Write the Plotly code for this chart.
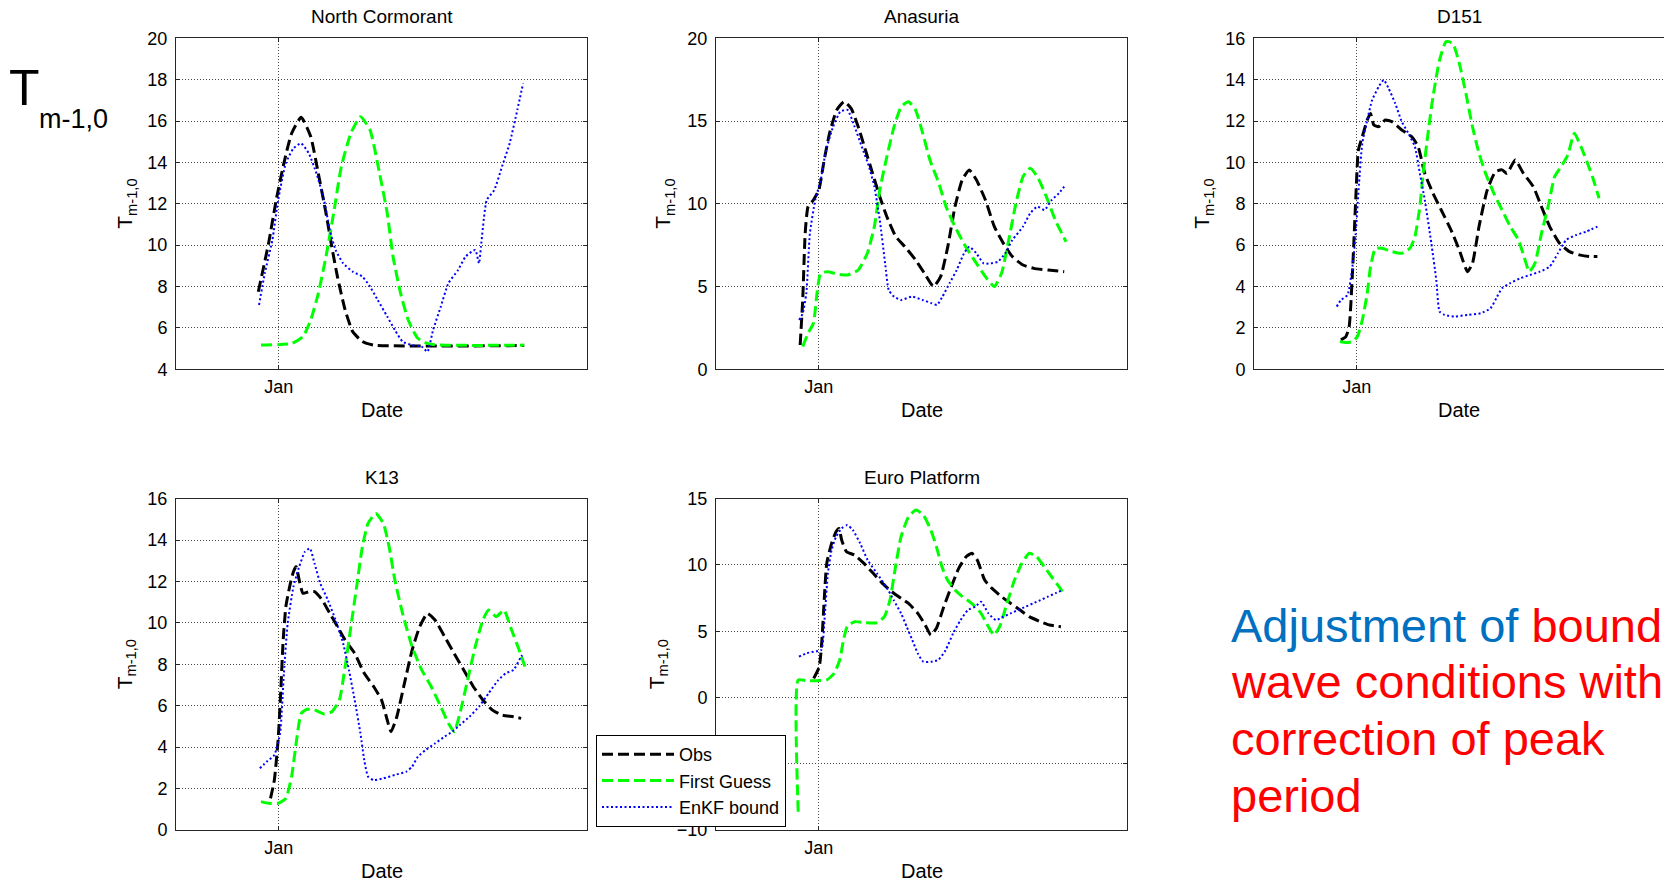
import plotly.graph_objects as go

# ---------------- data (days relative to 1 Jan, T_m-1,0 in s) ----------------
nc_obs_t = [-1.99, -0.99, -0.24, 0.5, 1.25, 2.18, 3.11, 3.85, 4.6, 5.16, 5.71, 6.46, 7.2, 8.14, 9.25, 23.89]
nc_obs_v = [7.75, 10.09, 12.2, 13.96, 15.4, 16.18, 15.25, 13.47, 11.54, 9.93, 8.48, 6.87, 5.82, 5.34, 5.17, 5.15]
nc_fg_t = [-1.73, 1.25, 2.36, 3.11, 3.85, 4.6, 5.34, 6.09, 7.02, 7.95, 8.88, 9.81, 10.56, 11.12, 11.86, 12.6, 13.53, 14.65, 23.89]
nc_fg_v = [5.17, 5.25, 5.58, 6.38, 7.67, 9.45, 11.54, 13.8, 15.41, 16.21, 15.57, 13.47, 11.54, 9.45, 7.67, 6.38, 5.5, 5.22, 5.17]
nc_en_t = [-1.92, -1.36, -0.62, -0.06, 0.69, 1.43, 2.18, 2.92, 3.67, 4.41, 4.97, 5.53, 6.27, 7.2, 8.14, 8.88, 9.63, 10.56,
           11.3, 12.05, 12.98, 13.91, 14.47, 15.02, 15.77, 16.51, 17.45, 18.19, 19.12, 19.49, 19.68, 20.24, 20.98, 21.73,
           22.47, 23.22, 23.78]
nc_en_v = [7.11, 8.64, 10.25, 12.18, 13.96, 14.68, 14.92, 14.44, 13.47, 12.18, 10.73, 9.77, 9.12, 8.72, 8.48, 8.0, 7.35, 6.55,
           5.9, 5.34, 5.17, 5.1, 4.85, 5.9, 7.03, 8.16, 8.8, 9.45, 9.77, 9.12, 9.93, 12.18, 12.67, 13.8,
           14.92, 16.54, 17.82]

an_obs_t = [-1.81, -1.56, -1.32, -1.04, -0.52, 0.01, 0.53, 1.05, 1.75, 2.45, 3.15, 3.84, 4.54, 5.24, 5.94, 6.63, 7.5, 8.38,
            9.42, 10.29, 11.17, 11.86, 12.56, 13.26, 13.96, 14.65, 15.35, 16.22, 17.09, 17.97, 18.84, 19.88, 20.93, 22.32, 23.89]
an_obs_v = [1.47, 4.19, 8.22, 9.83, 10.23, 10.84, 12.65, 14.26, 15.67, 16.17, 15.77, 14.66, 13.25, 11.84, 10.43, 9.22, 8.02, 7.41,
            6.61, 5.8, 5.0, 5.6, 7.41, 9.83, 11.44, 12.04, 11.44, 10.23, 8.62, 7.61, 6.81, 6.3, 6.1, 6.0, 5.9]
an_fg_t = [-1.56, -1.04, -0.52, -0.17, 0.18, 0.88, 1.75, 2.8, 3.84, 4.72, 5.41, 5.94, 6.63, 7.33, 8.03, 8.73, 9.42, 10.12,
           10.82, 11.69, 12.39, 13.26, 14.3, 15.35, 16.22, 17.09, 17.79, 18.49, 19.19, 19.88, 20.58, 21.28, 22.15, 23.02, 24.07]
an_fg_v = [1.37, 2.18, 2.78, 4.59, 5.8, 5.9, 5.76, 5.7, 6.0, 7.0, 8.62, 10.84, 12.85, 14.66, 15.87, 16.17, 15.67, 14.26,
           12.65, 11.24, 9.83, 8.62, 7.41, 6.4, 5.6, 5.0, 5.8, 7.81, 10.03, 11.64, 12.15, 11.64, 10.43, 9.02, 7.71]
an_en_t = [-1.91, -1.56, -1.21, -0.86, -0.34, 0.19, 0.71, 1.4, 2.1, 2.8, 3.49, 4.19, 4.89, 5.41, 5.94, 6.46, 6.81, 7.33,
           8.03, 9.07, 10.12, 10.99, 11.51, 12.04, 12.73, 13.43, 14.13, 14.65, 15.35, 16.05, 16.75, 17.44, 18.14, 18.84,
           19.88, 20.58, 21.28, 21.98, 22.67, 23.37, 23.89]
an_en_v = [2.98, 3.38, 4.59, 8.22, 10.23, 11.44, 13.25, 14.66, 15.57, 15.67, 14.66, 13.45, 12.25, 11.04, 9.02, 6.4, 4.79, 4.39,
           4.19, 4.39, 4.19, 3.99, 3.89, 4.39, 5.2, 6.0, 7.0, 7.41, 7.0, 6.4, 6.4, 6.5, 7.0, 7.81,
           8.62, 9.43, 9.83, 9.63, 10.23, 10.63, 11.04]

d151_obs_t = [-1.54, -1.06, -0.74, -0.42, -0.1, 0.16, 0.54, 1.02, 1.34, 1.66, 2.14, 2.78, 3.42, 4.38, 5.34, 5.98, 6.62, 7.42,
              8.22, 9.18, 9.98, 10.78, 11.26, 11.9, 12.7, 13.5, 14.14, 14.62, 15.42, 16.22, 17.18, 17.98, 18.78, 19.74,
              20.7, 21.66, 22.62, 23.42]
d151_obs_v = [1.42, 1.58, 2.06, 4.64, 8.19, 10.6, 11.25, 12.05, 12.37, 11.81, 11.73, 12.05, 11.97, 11.57, 11.25, 10.76, 9.47, 8.51,
              7.7, 6.73, 5.77, 4.72, 5.12, 6.9, 8.67, 9.55, 9.64, 9.47, 10.12, 9.47, 8.83, 7.86, 6.9, 6.09,
              5.69, 5.53, 5.45, 5.45]
d151_fg_t = [-1.63, -1.06, -0.42, 0.06, 0.54, 1.02, 1.34, 1.82, 2.46, 3.42, 4.38, 5.18, 5.66, 6.14, 6.46, 6.94, 7.42, 8.06,
             8.7, 9.34, 9.98, 10.62, 11.26, 11.9, 12.54, 13.34, 14.14, 14.94, 15.74, 16.38, 16.79, 17.34, 17.98, 18.62,
             19.26, 19.9, 20.54, 21.18, 21.82, 22.46, 22.94, 23.58]
d151_fg_v = [1.34, 1.29, 1.34, 1.58, 2.38, 3.67, 4.96, 5.85, 5.85, 5.69, 5.61, 5.85, 6.41, 7.86, 9.47, 11.41, 13.18, 14.95,
             15.84, 15.76, 14.79, 13.34, 11.73, 10.44, 9.47, 8.51, 7.7, 6.9, 6.25, 5.28, 4.72, 5.12, 6.57, 7.86,
             9.31, 9.8, 10.36, 11.41, 10.76, 9.96, 9.31, 8.27]
d151_en_t = [-1.95, -1.54, -0.9, -0.42, -0.1, 0.22, 0.54, 1.02, 1.5, 2.14, 2.62, 3.1, 3.74, 4.38, 5.02, 5.66, 6.14, 6.62,
             7.26, 7.74, 8.06, 8.54, 9.5, 10.78, 12.06, 13.02, 13.66, 14.14, 14.94, 15.9, 16.86, 17.82, 18.78, 19.58,
             20.38, 21.34, 22.3, 23.42]
d151_en_v = [3.03, 3.35, 3.59, 4.96, 6.57, 8.99, 10.92, 12.05, 13.02, 13.66, 13.99, 13.58, 12.86, 11.97, 11.41, 10.76, 9.47, 8.19,
             6.09, 4.32, 2.79, 2.63, 2.55, 2.63, 2.71, 2.95, 3.51, 3.92, 4.16, 4.4, 4.56, 4.72, 4.96, 5.61,
             6.25, 6.49, 6.65, 6.9]

k13_obs_t = [-0.8, -0.43, -0.06, 0.2, 0.43, 0.69, 1.06, 1.43, 1.69, 1.99, 2.36, 2.92, 3.48, 4.23, 4.97, 5.72, 6.46, 7.39,
             8.32, 9.25, 10.0, 10.56, 10.93, 11.49, 12.23, 12.98, 13.72, 14.47, 15.21, 16.14, 17.07, 18.0, 18.94, 19.87,
             20.8, 21.73, 22.85, 23.59]
k13_obs_v = [1.53, 2.41, 4.35, 6.76, 9.17, 10.78, 11.75, 12.47, 12.72, 12.07, 11.43, 11.51, 11.51, 11.11, 10.46, 9.82, 9.17, 8.53,
             7.57, 6.92, 6.28, 5.31, 4.75, 5.47, 7.08, 8.69, 9.82, 10.46, 10.14, 9.34, 8.53, 7.73, 6.92, 6.28,
             5.79, 5.55, 5.47, 5.39]
k13_fg_t = [-1.73, -0.99, -0.06, 0.69, 1.25, 1.69, 2.18, 2.74, 3.48, 4.41, 5.16, 5.9, 6.46, 7.02, 7.58, 8.14, 8.69, 9.44,
            10.18, 10.74, 11.3, 12.05, 12.98, 13.91, 14.84, 15.77, 16.51, 17.07, 17.63, 18.38, 19.12, 19.87, 20.42, 21.17,
            21.91, 22.66, 23.4, 23.96]
k13_fg_v = [1.37, 1.29, 1.29, 1.53, 2.58, 4.18, 5.63, 5.83, 5.8, 5.6, 5.71, 6.28, 7.89, 9.82, 11.75, 13.68, 14.81, 15.29,
            14.81, 13.68, 12.07, 10.46, 8.85, 7.73, 6.92, 5.96, 5.15, 4.75, 5.63, 7.24, 8.85, 10.14, 10.62, 10.3,
            10.62, 9.66, 8.69, 7.89]
k13_en_t = [-1.84, -1.17, -0.43, 0.13, 0.5, 0.87, 1.43, 1.99, 2.55, 3.03, 3.48, 4.04, 4.78, 5.53, 6.27, 6.83, 7.39, 7.95,
            8.32, 8.69, 9.25, 10.18, 11.3, 12.42, 12.98, 13.54, 14.28, 15.21, 16.14, 16.89, 17.63, 18.56, 19.49, 20.42,
            21.36, 22.1, 22.85, 23.59, 23.89]
k13_en_v = [2.98, 3.3, 3.62, 4.67, 7.57, 9.98, 11.75, 12.72, 13.44, 13.6, 12.88, 11.91, 11.11, 10.14, 9.01, 7.73, 6.28, 4.67,
            3.38, 2.58, 2.41, 2.49, 2.66, 2.82, 3.06, 3.54, 3.86, 4.18, 4.51, 4.75, 5.07, 5.47, 5.96, 6.6,
            7.24, 7.57, 7.73, 8.37, 8.53]

ep_obs_t = [-0.49, 0.05, 0.31, 0.53, 0.78, 1.25, 1.68, 1.97, 2.23, 2.7, 3.49, 4.4, 5.3, 6.2, 7.11, 8.01, 8.74, 9.64,
            10.36, 10.91, 11.45, 12.17, 12.9, 13.62, 14.34, 14.89, 15.43, 16.15, 16.87, 17.78, 18.68, 19.59, 20.49, 21.58,
            22.48, 23.57]
ep_obs_v = [1.44, 2.32, 4.34, 7.35, 10.12, 11.63, 12.51, 12.76, 11.88, 11.0, 10.75, 10.12, 9.37, 8.61, 7.98, 7.48, 7.1, 6.35,
            5.47, 4.71, 5.22, 6.85, 8.36, 9.74, 10.62, 10.88, 10.37, 8.86, 8.23, 7.61, 7.1, 6.6, 6.1, 5.72,
            5.47, 5.34]
ep_fg_t = [-2.0, -2.0, -1.21, -0.13, 0.78, 1.5, 2.04, 2.41, 2.77, 3.49, 4.58, 5.66, 6.39, 6.93, 7.47, 8.01, 8.74, 9.46,
           10.18, 10.91, 11.45, 11.99, 12.53, 13.26, 13.98, 14.89, 15.79, 16.51, 17.06, 17.6, 18.32, 19.05, 19.77, 20.49,
           21.21, 21.94, 22.66, 23.38, 23.93]
ep_fg_v = [-8.62, 1.32, 1.27, 1.27, 1.32, 1.82, 2.83, 4.34, 5.34, 5.72, 5.64, 5.64, 6.1, 7.35, 9.87, 12.13, 13.64, 14.14,
           13.77, 12.64, 11.38, 9.87, 8.86, 8.11, 7.61, 7.1, 6.35, 5.34, 4.71, 5.34, 7.1, 8.86, 10.12, 10.88,
           10.62, 9.87, 9.11, 8.36, 7.73]
ep_en_t = [-1.93, -1.21, -0.49, 0.24, 0.6, 0.89, 1.25, 1.68, 2.23, 2.77, 3.31, 4.03, 4.76, 5.66, 6.57, 7.29, 8.01, 8.56,
           9.1, 9.64, 10.18, 10.91, 11.63, 12.35, 13.08, 13.8, 14.52, 15.25, 15.79, 16.51, 17.24, 17.96, 18.68, 19.41,
           20.13, 20.85, 21.58, 22.3, 23.02, 23.74]
ep_en_v = [3.08, 3.33, 3.46, 3.58, 6.35, 9.37, 11.13, 12.13, 12.76, 13.01, 12.64, 11.63, 10.37, 9.37, 8.36, 7.35, 6.35, 5.34,
           4.34, 3.33, 2.7, 2.7, 2.83, 3.58, 4.84, 5.84, 6.6, 6.85, 7.23, 6.35, 5.84, 6.1, 6.35, 6.6,
           6.85, 7.1, 7.35, 7.61, 7.86, 8.11]

station_names = ["North Cormorant", "Anasuria", "D151", "K13", "Euro Platform"]
series_names = ["Obs", "First Guess", "EnKF bound"]
y_tick_values = [list(range(4, 21, 2)), list(range(0, 21, 5)), list(range(0, 17, 2)),
                 list(range(0, 17, 2)), list(range(-10, 16, 5))]
x_tick_values = [0]
x_tick_labels = ["Jan"]

station_data = [
    [(nc_obs_t, nc_obs_v), (nc_fg_t, nc_fg_v), (nc_en_t, nc_en_v)],
    [(an_obs_t, an_obs_v), (an_fg_t, an_fg_v), (an_en_t, an_en_v)],
    [(d151_obs_t, d151_obs_v), (d151_fg_t, d151_fg_v), (d151_en_t, d151_en_v)],
    [(k13_obs_t, k13_obs_v), (k13_fg_t, k13_fg_v), (k13_en_t, k13_en_v)],
    [(ep_obs_t, ep_obs_v), (ep_fg_t, ep_fg_v), (ep_en_t, ep_en_v)],
]

# ---------------- layout / style ----------------
W, H = 1664, 882
FONT = "Liberation Sans, Arial, Helvetica, sans-serif"
boxes = [  # left, right, top, bottom (px)
    (176, 587, 38.3, 369.3),
    (716, 1127, 38.3, 369.3),
    (1254, 1664, 38.3, 369.3),
    (176, 587, 498.7, 830),
    (716, 1127, 498.7, 830),
]
label_x = [126, 664, 1203, 126, 658]
styles = [
    dict(color="#000000", width=3, dash="11px,5px"),
    dict(color="#00FF00", width=3, dash="11px,5px"),
    dict(color="#0000FF", width=2, dash="2px,2.5px"),
]
AX_COL = "#262626"
GRID_COL = "#4a4a4a"


def px(x):
    return x / W


def py(y):
    return 1 - y / H


fig = go.Figure()
annotations = []
for i, (box, name, data, yt) in enumerate(zip(boxes, station_names, station_data, y_tick_values), start=1):
    l, r, t, b = box
    sfx = "" if i == 1 else str(i)
    xr = [-10, -10 + 40 * (r - l) / 411.0]
    fig.update_layout(**{
        f"xaxis{sfx}": dict(domain=[px(l), px(r)], range=xr, anchor=f"y{sfx}",
                            tickvals=x_tick_values, ticktext=x_tick_labels,
                            ticks="inside", ticklen=4, tickcolor=AX_COL,
                            showline=True, linecolor=AX_COL, linewidth=1, mirror="ticks",
                            showgrid=True, gridcolor=GRID_COL, griddash="1px,2px", gridwidth=1,
                            zeroline=False, ticklabelstandoff=1, automargin=False,
                            tickfont=dict(size=18, color="#000000", family=FONT)),
        f"yaxis{sfx}": dict(domain=[py(b), py(t)], range=[yt[0], yt[-1]], anchor=f"x{sfx}",
                            tickvals=yt, ticks="inside", ticklen=4, tickcolor=AX_COL,
                            showline=True, linecolor=AX_COL, linewidth=1,
                            mirror=(False if i == 3 else "ticks"),
                            showgrid=True, gridcolor=GRID_COL, griddash="1px,2px", gridwidth=1,
                            zeroline=False, ticklabelstandoff=4, automargin=False,
                            tickfont=dict(size=18, color="#000000", family=FONT)),
    })
    for (tt, vv), sname, st in zip(data, series_names, styles):
        fig.add_trace(go.Scatter(
            x=tt, y=vv, mode="lines", name=sname,
            xaxis=f"x{sfx}", yaxis=f"y{sfx}",
            line=dict(color=st["color"], width=st["width"], dash=st["dash"], shape="spline", smoothing=0.5),
            showlegend=(i == 5), hoverinfo="skip",
        ))
    cx = (l + min(r, l + 411)) / 2
    annotations.append(dict(text=name, x=px(cx), y=py(t - 21.5), xref="paper", yref="paper",
                            showarrow=False, xanchor="center", yanchor="middle",
                            font=dict(size=19, color="#000000", family=FONT)))
    annotations.append(dict(text="Date", x=px(cx), y=py(b + 41), xref="paper", yref="paper",
                            showarrow=False, xanchor="center", yanchor="middle",
                            font=dict(size=20, color="#000000", family=FONT)))
    annotations.append(dict(text="T<sub>m-1,0</sub>", x=px(label_x[i - 1]), y=py((t + b) / 2),
                            xref="paper", yref="paper", showarrow=False, textangle=-90,
                            xanchor="center", yanchor="middle",
                            font=dict(size=21, color="#000000", family=FONT)))

# big symbol at top-left
annotations.append(dict(text="T", x=px(7), y=py(88), xref="paper", yref="paper", showarrow=False,
                        xanchor="left", yanchor="middle", font=dict(size=50, color="#000000", family=FONT)))
annotations.append(dict(text="m-1,0", x=px(37), y=py(119), xref="paper", yref="paper", showarrow=False,
                        xanchor="left", yanchor="middle", font=dict(size=27, color="#000000", family=FONT)))

# explanatory text
text_lines = [
    '<span style="color:#0070C0">Adjustment of</span> boundary',
    "wave conditions with",
    "correction of peak",
    "period",
]
line_y = [625, 681.5, 738, 795]
for txt, yy in zip(text_lines, line_y):
    annotations.append(dict(text=txt, x=px(1229), y=py(yy), xref="paper", yref="paper", showarrow=False,
                            xanchor="left", yanchor="middle", align="left",
                            font=dict(size=47, color="#FF0000", family=FONT)))

fig.update_layout(
    width=W, height=H, margin=dict(l=0, r=0, t=0, b=0, pad=0, autoexpand=False),
    paper_bgcolor="white", plot_bgcolor="white",
    font=dict(family=FONT, color="#000000"),
    annotations=annotations,
    showlegend=True,
    legend=dict(x=px(596), y=py(735), xanchor="left", yanchor="top",
                bgcolor="white", bordercolor="#000000", borderwidth=1,
                font=dict(size=18, color="#000000", family=FONT),
                itemwidth=72, tracegroupgap=0),
)

fig.write_html("out.html")
